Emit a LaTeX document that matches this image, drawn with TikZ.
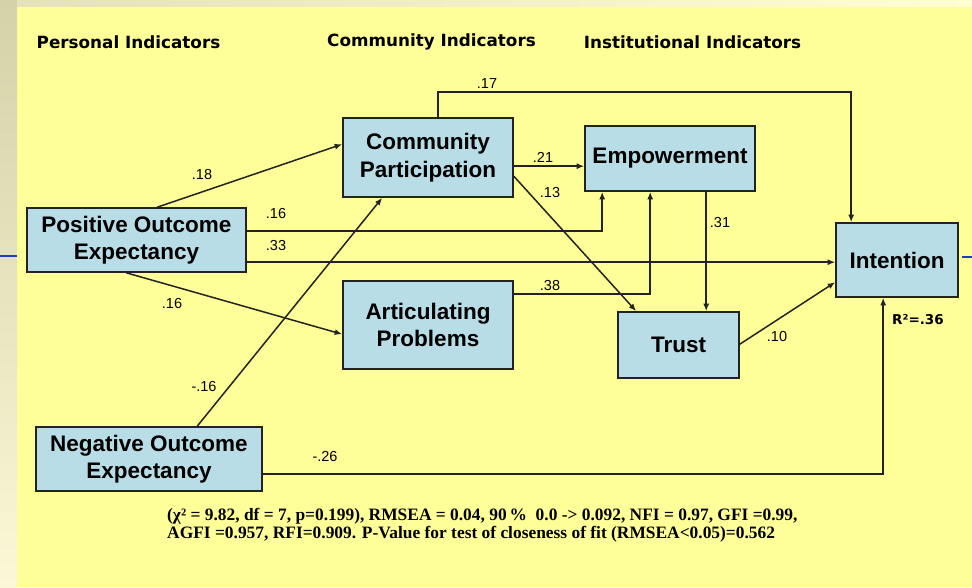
\documentclass[tikz,border=0pt]{standalone}
\usepackage{fontspec}
\setmainfont{Liberation Sans}
\newfontfamily\hdrfont{DejaVu Sans}
\newfontfamily\serifb{Liberation Serif}
\usetikzlibrary{arrows.meta}
\definecolor{bgyellow}{RGB}{255,255,153}
\definecolor{boxblue}{RGB}{185,221,230}
\definecolor{linegray}{RGB}{35,35,35}
\definecolor{stripA}{RGB}{212,210,168}
\definecolor{stripB}{RGB}{250,248,214}
\definecolor{topA}{RGB}{228,226,188}
\definecolor{topB}{RGB}{255,254,212}
\definecolor{slideblue}{RGB}{30,60,200}
\tikzset{
  varbox/.style={draw=linegray, line width=1.6pt, fill=boxblue, align=center,
    font=\bfseries\fontsize{22.5}{27.5}\selectfont, inner sep=0pt},
  arr/.style={draw=linegray, line width=1.5pt, -{Latex[length=7.5pt,width=6pt]}},
  lab/.style={font=\fontsize{14.5}{16}\selectfont, inner sep=0pt},
  hdr/.style={font=\hdrfont\bfseries\fontsize{16.8}{18}\selectfont, inner sep=0pt},
}
\begin{document}
\begin{tikzpicture}[x=1pt,y=-1pt]
\useasboundingbox (0,0) rectangle (972,587);
% background
\fill[bgyellow] (0,0) rectangle (972,587);
\shade[top color=stripA, bottom color=stripB] (0,0) rectangle (17,587);
\shade[left color=topA, right color=topB] (17,0) rectangle (972,6);
\draw[slideblue, line width=2pt] (0,256) -- (17,256);
\draw[slideblue, line width=2pt] (962,257) -- (972,257);

% headers
\node[hdr] (h1) at (128.5,42) {Personal Indicators};
\node[hdr] (h2) at (431.5,42) {Community Indicators};
\node[hdr] (h3) at (692.5,42) {Institutional Indicators};

% boxes
\node[varbox, minimum width=219pt, minimum height=64pt] (pos) at (136.5,240) {Positive Outcome\\Expectancy};
\node[varbox, minimum width=226pt, minimum height=64pt] (neg) at (149,459) {Negative Outcome\\Expectancy};
\node[varbox, minimum width=170pt, minimum height=79pt] (com) at (428,157.5) {Community\\Participation};
\node[varbox, minimum width=170pt, minimum height=65pt] (emp) at (670,158.5) {Empowerment};
\node[varbox, minimum width=170pt, minimum height=88pt] (art) at (428,325) {Articulating\\Problems};
\node[varbox, minimum width=121pt, minimum height=66pt] (trust) at (678.5,345) {Trust};
\node[varbox, minimum width=122pt, minimum height=74pt] (int) at (897,260) {Intention};

% connectors
\draw[arr] ([xshift=131pt]pos.north west) -- ([yshift=-27pt]com.north west);
\draw[arr] ([yshift=-24pt]pos.north east) -| ([xshift=18pt]emp.south west);
\draw[arr] ([yshift=-55pt]pos.north east) -- ([yshift=-40pt]int.north west);
\draw[arr] ([xshift=100pt]pos.south west) -- ([yshift=-54pt]art.north west);
\draw[arr] ([xshift=162pt]neg.north west) -- ([xshift=40pt]com.south west);
\draw[arr] ([yshift=-48pt]neg.north east) -| ([xshift=48pt]int.south west);
\draw[arr] ([xshift=96pt]com.north west) -- ++(0,-25) -| ([xshift=16pt]int.north west);
\draw[arr] ([yshift=-49pt]com.north east) -- ([yshift=-41pt]emp.north west);
\draw[arr] ([yshift=-59pt]com.north east) -- ([xshift=19pt]trust.north west);
\draw[arr] ([yshift=-14pt]art.north east) -| ([xshift=66pt]emp.south west);
\draw[arr] ([xshift=122pt]emp.south west) -- ([xshift=89pt]trust.north west);
\draw[arr] ([yshift=-33pt]trust.north east) -- ([yshift=-60pt]int.north west);

% labels
\node[lab] (l1) at (202,175) {.18};
\node[lab] (l2) at (276,214) {.16};
\node[lab] (l3) at (276,246) {.33};
\node[lab] (l4) at (172,304) {.16};
\node[lab] (l5) at (204,387) {-.16};
\node[lab] (l6) at (325,457) {-.26};
\node[lab] (l7) at (487,84) {.17};
\node[lab] (l8) at (543,157) {.21};
\node[lab] (l9) at (550,193) {.13};
\node[lab] (l10) at (550,286) {.38};
\node[lab] (l11) at (720,223) {.31};
\node[lab] (l12) at (777,337) {.10};
\node[font=\hdrfont\bfseries\fontsize{13.5}{15}\selectfont, inner sep=0pt] (r2) at (918,320) {R²=.36};

% footer
\node[anchor=north west, align=left, inner sep=0pt,
      font=\serifb\bfseries\fontsize{17.4}{18.5}\selectfont] (fit) at (167,508)
  {(χ² = 9.82, df = 7, p=0.199), RMSEA = 0.04, 90\,\%~~0.0 -> 0.092, NFI = 0.97, GFI =0.99,\\
   AGFI =0.957, RFI=0.909. P-Value for test of closeness of fit (RMSEA<0.05)=0.562};
\end{tikzpicture}
\end{document}
